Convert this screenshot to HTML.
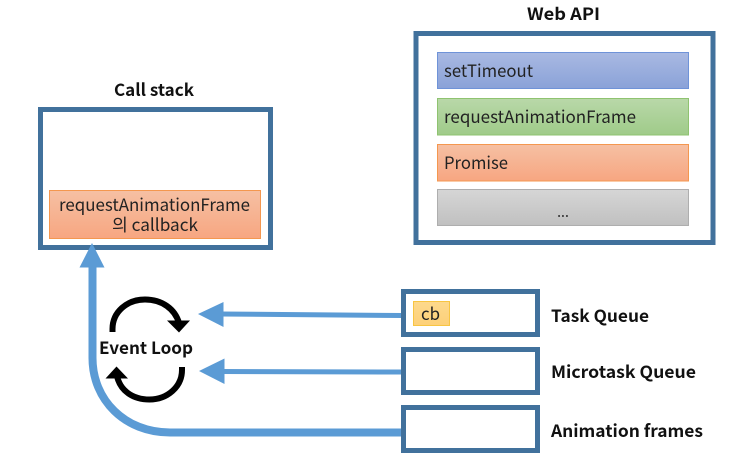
<!DOCTYPE html>
<html>
<head>
<meta charset="utf-8">
<style>
html,body{margin:0;padding:0;background:#fff;width:740px;height:467px;overflow:hidden}
svg{display:block}
text{font-family:"Noto Sans CJK KR","Liberation Sans",sans-serif;fill:#222;filter:blur(0.3px)}
.b{font-weight:700;font-size:17px;fill:#111}
.t{font-size:17px}
</style>
</head>
<body>
<svg width="740" height="467" viewBox="0 0 740 467" xmlns="http://www.w3.org/2000/svg">
<defs>
<linearGradient id="blue" x1="0" y1="0" x2="0" y2="1"><stop offset="0" stop-color="#a9b9e2"/><stop offset="1" stop-color="#8aa2d8"/></linearGradient>
<linearGradient id="green" x1="0" y1="0" x2="0" y2="1"><stop offset="0" stop-color="#b9d8a9"/><stop offset="1" stop-color="#9fcb89"/></linearGradient>
<linearGradient id="orange" x1="0" y1="0" x2="0" y2="1"><stop offset="0" stop-color="#f6c0a3"/><stop offset="1" stop-color="#f7a681"/></linearGradient>
<linearGradient id="gray" x1="0" y1="0" x2="0" y2="1"><stop offset="0" stop-color="#d6d6d6"/><stop offset="1" stop-color="#c0c0c0"/></linearGradient>
<linearGradient id="yellow" x1="0" y1="0" x2="0" y2="1"><stop offset="0" stop-color="#fdd98d"/><stop offset="1" stop-color="#fdd078"/></linearGradient>
</defs>

<!-- Main containers -->
<rect x="40.5" y="109.5" width="230" height="138" fill="#fff" stroke="#41719c" stroke-width="5"/>
<rect x="416" y="33.5" width="297" height="209" fill="#fff" stroke="#41719c" stroke-width="5"/>

<!-- Web API items -->
<rect x="437.5" y="52.5" width="251" height="36" fill="url(#blue)" stroke="#6f93d8"/>
<rect x="437.5" y="98.5" width="251" height="36.5" fill="url(#green)" stroke="#8fc370"/>
<rect x="437.5" y="144.5" width="251" height="36.5" fill="url(#orange)" stroke="#f4974f"/>
<rect x="437.5" y="189.5" width="251" height="36" fill="url(#gray)" stroke="#aeaeae"/>

<text class="t" x="444" y="77" textLength="89" lengthAdjust="spacingAndGlyphs">setTimeout</text>
<text class="t" x="444" y="123" textLength="192" lengthAdjust="spacingAndGlyphs">requestAnimationFrame</text>
<text class="t" x="444" y="169" textLength="64" lengthAdjust="spacingAndGlyphs">Promise</text>
<text class="t" x="563" y="217" style="font-size:14px" text-anchor="middle">...</text>

<!-- Call stack item -->
<rect x="49.5" y="190.5" width="211" height="48" fill="url(#orange)" stroke="#f4974f"/>
<text class="t" x="59" y="211" textLength="191" lengthAdjust="spacingAndGlyphs">requestAnimationFrame</text>
<text class="t" x="112" y="231" textLength="86" lengthAdjust="spacingAndGlyphs">의 callback</text>

<!-- Titles -->
<text class="b" x="114" y="96" textLength="80" lengthAdjust="spacingAndGlyphs">Call stack</text>
<text class="b" x="527" y="20" textLength="73" lengthAdjust="spacingAndGlyphs">Web API</text>

<!-- Connectors -->
<path d="M402 432.5 H170 C125 432.5 92.5 400 92.5 358 V262" fill="none" stroke="#5b9bd5" stroke-width="8"/>
<polygon points="92,243 104.5,267.5 79.5,267.5" fill="#5b9bd5"/>
<path d="M220 314 L402 315.5" fill="none" stroke="#5b9bd5" stroke-width="5"/>
<polygon points="198,314 223.5,302 223.5,327" fill="#5b9bd5"/>
<path d="M221 371.5 L402 372" fill="none" stroke="#5b9bd5" stroke-width="5"/>
<polygon points="199,371 224.5,358.5 224.5,384" fill="#5b9bd5"/>

<!-- Queues -->
<rect x="403.5" y="291.5" width="134" height="43" fill="#fff" stroke="#41719c" stroke-width="5"/>
<rect x="403.5" y="349.5" width="134" height="43" fill="#fff" stroke="#41719c" stroke-width="5"/>
<rect x="403.5" y="407.5" width="134" height="43" fill="#fff" stroke="#41719c" stroke-width="5"/>
<rect x="413.5" y="301.5" width="36" height="24" fill="url(#yellow)" stroke="#f8c542"/>
<text class="t" x="421" y="320" textLength="19" lengthAdjust="spacingAndGlyphs">cb</text>

<text class="b" x="551" y="322" textLength="98" lengthAdjust="spacingAndGlyphs">Task Queue</text>
<text class="b" x="551" y="378" textLength="145" lengthAdjust="spacingAndGlyphs">Microtask Queue</text>
<text class="b" x="551" y="437" textLength="152" lengthAdjust="spacingAndGlyphs">Animation frames</text>

<!-- Event loop -->
<path d="M112.5 332 V329 C112.5 312 127 299.5 145 299.5 C162 299.5 175 309 179 323" fill="none" stroke="#000" stroke-width="6"/>
<polygon points="167,320.5 190,320.5 179,332.5" fill="#000"/>
<path d="M182 367 V370 C182 387 167 399.5 149.5 399.5 C132 399.5 120 390 117 376" fill="none" stroke="#000" stroke-width="6"/>
<polygon points="105.5,378.5 128,378.5 116.5,366.5" fill="#000"/>
<text class="b" x="99" y="354" textLength="94" lengthAdjust="spacingAndGlyphs">Event Loop</text>
</svg>
</body>
</html>
